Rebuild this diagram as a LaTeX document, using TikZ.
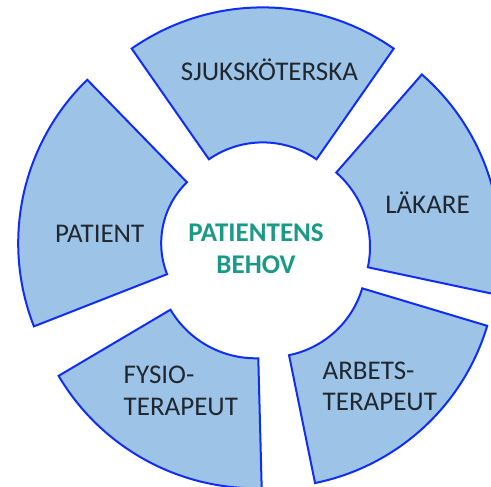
\documentclass[tikz,border=0pt]{standalone}
\usepackage{fontspec}
\setmainfont{Carlito}
\usetikzlibrary{calc}
\definecolor{segfill}{HTML}{9DC3E6}
\definecolor{segline}{RGB}{15,45,245}
\definecolor{labeltext}{HTML}{1F2830}
\definecolor{centertext}{HTML}{1A9A86}
\tikzset{
  segment/.style={fill=segfill, draw=segline, line width=2pt, line join=miter},
  seglabel/.style={font=\fontsize{27}{31.5}\selectfont, text=labeltext, inner sep=0pt, anchor=base},
  centerlabel/.style={font=\fontsize{27}{31.5}\selectfont\bfseries, text=centertext, inner sep=0pt, anchor=base}
}
% #1 apex name, #2 start angle, #3 end angle, #4 inner r, #5 outer r
\newcommand{\ringsector}[5]{%
  \draw[segment] ($(#1)+(#2:#4)$) -- ($(#1)+(#2:#5)$)
    arc[start angle=#2, end angle=#3, radius=#5]
    -- ($(#1)+(#3:#4)$)
    arc[start angle=#3, end angle=#2, radius=#4] -- cycle;}
\begin{document}
\begin{tikzpicture}[x=1pt,y=1pt]
\useasboundingbox (0,0) rectangle (491,-487);
\clip (0,0) rectangle (491,-487);
\coordinate (apexS) at (262.7,-236.4);
\coordinate (apexL) at (271.5,-246.8);
\coordinate (apexA) at (269.8,-260.6);
\coordinate (apexF) at (255.7,-259.3);
\coordinate (apexP) at (246.2,-243.2);
\ringsector{apexS}{55.1}{124.9}{94}{229}
\ringsector{apexL}{-12}{48.9}{98.5}{228.7}
\ringsector{apexA}{-78.5}{-16.7}{96.5}{227}
\ringsector{apexF}{210.6}{271.5}{99}{229}
\ringsector{apexP}{134.2}{201.4}{85}{228}
\node[seglabel] (sjuk) at (269.5,-81) {SJUKSKÖTERSKA};
\node[seglabel] (lak) at (427.5,-213.3) {LÄKARE};
\node[seglabel] (pat) at (99.7,-242.7) {PATIENT};
\node[seglabel, anchor=base west] (fys1) at (123.5,-383.3) {FYSIO-};
\node[seglabel, anchor=base west] (fys2) at (123.5,-415) {TERAPEUT};
\node[seglabel, anchor=base west] (arb1) at (322.5,-379.3) {ARBETS-};
\node[seglabel, anchor=base west] (arb2) at (322.5,-410.7) {TERAPEUT};
\node[centerlabel] (beh1) at (256,-241) {PATIENTENS};
\node[centerlabel] (beh2) at (256,-273.3) {BEHOV};
\end{tikzpicture}
\end{document}
